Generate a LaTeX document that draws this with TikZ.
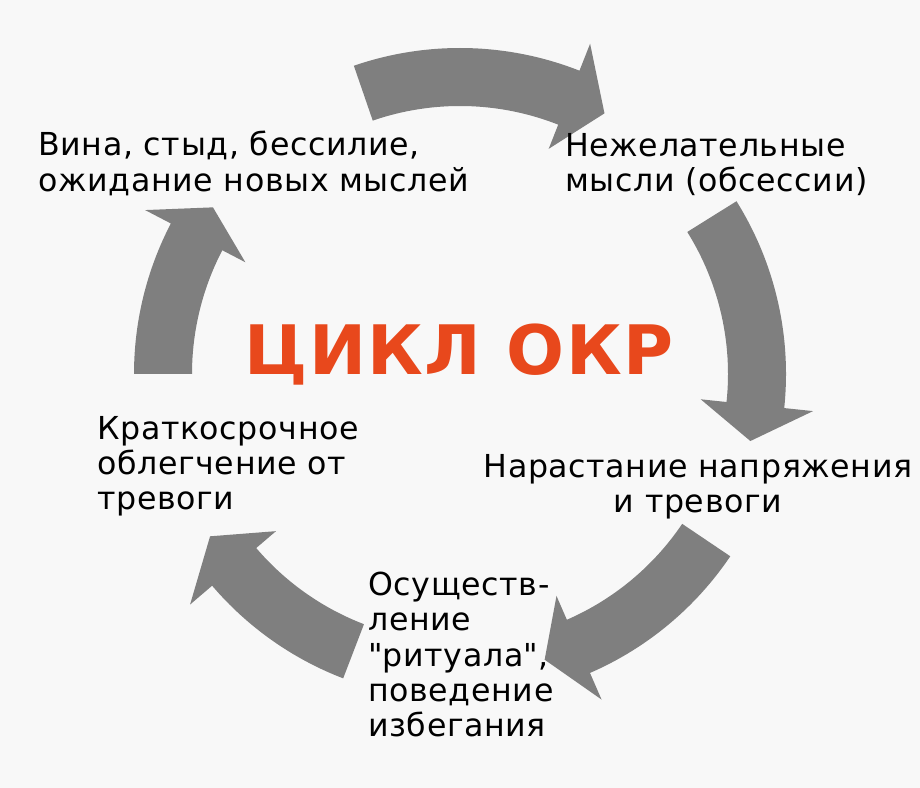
\documentclass[tikz,border=0pt]{standalone}
\usepackage{fontspec}
\setmainfont[LetterSpace=2]{DejaVu Sans}
\newfontfamily\titlefont[LetterSpace=2]{DejaVu Sans}
\usepackage{xcolor}
\usepackage{tikz}
\usetikzlibrary{shapes,arrows,positioning,calc}

\definecolor{bggray}{RGB}{248,248,248}
\definecolor{arrowgray}{RGB}{127,127,127}
\definecolor{okrred}{RGB}{232,72,28}
\tikzset{
  stage/.style={inner sep=0pt, align=left, font=\fontsize{22.5pt}{25pt}\selectfont},
  cyclearrow/.style={fill=arrowgray},
}

\begin{document}
\begin{tikzpicture}[x=0.025cm,y=0.025cm]
  % фон
  \fill[bggray] (0,0) rectangle (920,788);
  \useasboundingbox (0,0) rectangle (920,788);
  % стрелки по кругу
  \begin{scope}[shift={(460,414)}]
    \foreach \tail/\base/\tip in {109/68.5/61, 32/-6/-13, -34/-66.5/-73.5, -111/-139.5/-147, 180/152.5/146} {
      \fill[cyclearrow] (\tail:326) arc[start angle=\tail, end angle=\base, radius=326]
        -- (\base:355) -- (\tip:298) -- (\base:242) -- (\base:268)
        arc[start angle=\base, end angle=\tail, radius=268] -- cycle;
    }
  \end{scope}
  % заголовок
  \node[anchor=base, text=okrred, font=\titlefont\bfseries\fontsize{48.5pt}{50pt}\selectfont] (title) at (459,413) {ЦИКЛ ОКР};
  % этапы
  \node[stage, anchor=north west] (guilt) at (38,657) {Вина, стыд, бессилие,\\ожидание новых мыслей};
  \node[stage, anchor=north west] (obsess) at (565,655) {Нежелательные\\мысли (обсессии)};
  \node[stage, anchor=north, align=center] (anxiety) at (698,334) {Нарастание напряжения\\и тревоги};
  \node[stage, anchor=north west] (ritual) at (368,216) {Осуществ-\\ление\\\textquotedbl ритуала\textquotedbl,\\поведение\\избегания};
  \node[stage, anchor=north west] (relief) at (97,372) {Краткосрочное\\облегчение от\\тревоги};
\end{tikzpicture}
\end{document}
